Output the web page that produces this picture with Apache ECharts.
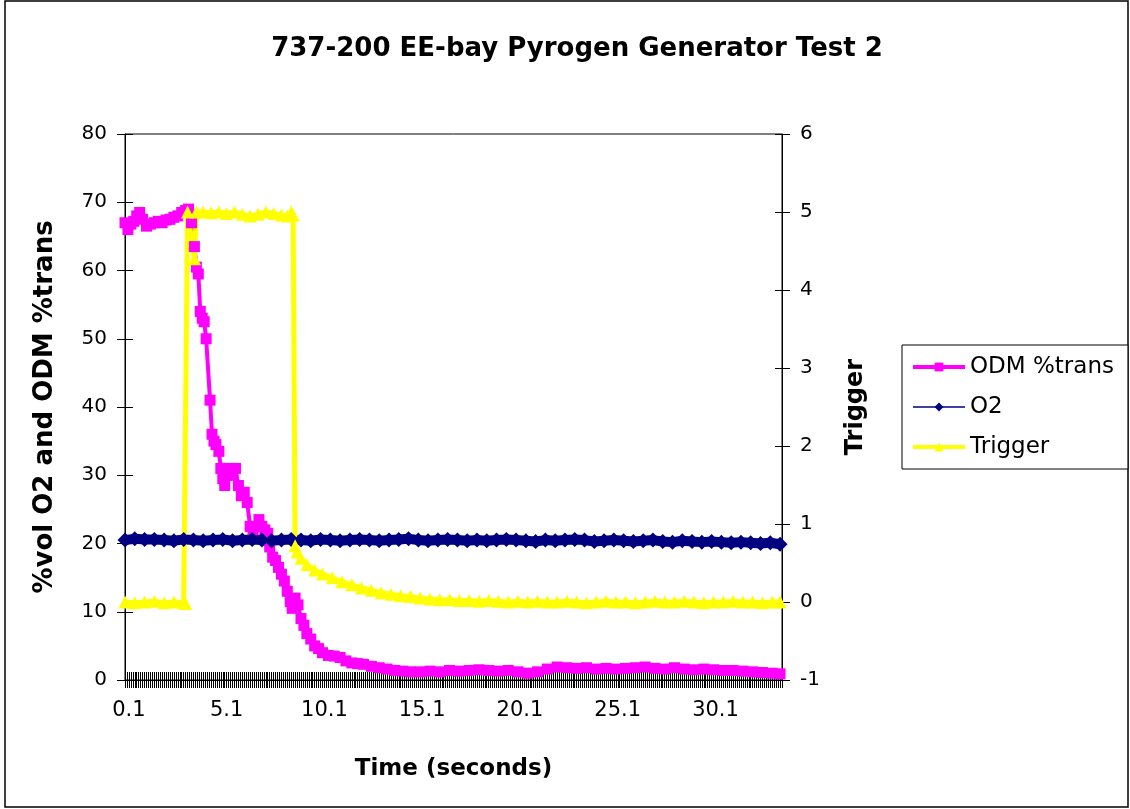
<!DOCTYPE html>
<html>
<head>
<meta charset="utf-8">
<script src="https://cdn.jsdelivr.net/npm/echarts@6.0.0/dist/echarts.min.js"></script>
<style>
  html, body { margin: 0; padding: 0; background: #fff; }
  #chart { width: 1130px; height: 809px; }
</style>
</head>
<body>
<div id="chart"></div>
<script>
// x labels shown under the axis (seconds)
const timeLabels = [0.1, 5.1, 10.1, 15.1, 20.1, 25.1, 30.1]

// ODM %trans (left axis)
const odmTime = [-0.1, 0.05, 0.2, 0.35, 0.5, 0.65, 0.8, 1.0, 1.2, 1.4, 1.6, 1.8, 2.0, 2.2, 2.4, 2.6, 2.8, 3.0, 3.15, 3.3,
  3.45, 3.55, 3.65, 3.75, 3.85, 3.95, 4.05, 4.25, 4.35, 4.45, 4.55, 4.7, 4.8, 4.9, 5.0, 5.1, 5.25, 5.4, 5.55, 5.7,
  5.85, 6.0, 6.15, 6.3, 6.45, 6.6, 6.75, 6.9, 7.05, 7.2, 7.3, 7.45, 7.6, 7.75, 7.9, 8.05, 8.2, 8.35, 8.45, 8.6,
  8.75, 8.9, 9.05, 9.2, 9.4, 9.6, 9.8, 10.0, 10.3, 10.6, 10.9, 11.2, 11.5, 11.8, 12.1, 12.5, 12.9, 13.3, 13.7, 14.1,
  14.5, 15.0, 15.5, 16.0, 16.5, 17.0, 17.5, 18.0, 18.5, 19.0, 19.5, 20.0, 20.5, 21.0, 21.5, 22.0, 22.5, 23.0, 23.5, 24.0,
  24.5, 25.0, 25.5, 26.0, 26.5, 27.0, 27.5, 28.0, 28.5, 29.0, 29.5, 30.0, 30.5, 31.0, 31.5, 32.0, 32.5, 33.0, 33.4]
const odmValue = [67.0, 66.0, 66.8, 67.2, 68.0, 68.5, 67.5, 66.5, 66.8, 67.0, 67.2, 67.0, 67.4, 67.5, 67.8, 68.0, 68.5, 68.8, 69.0, 67.0,
  63.5, 60.5, 59.5, 54.0, 53.0, 52.5, 50.0, 41.0, 36.0, 35.0, 34.5, 33.5, 31.0, 29.5, 28.5, 30.0, 31.0, 30.0, 31.0, 28.5,
  27.0, 27.5, 26.0, 22.5, 22.0, 22.5, 23.5, 22.5, 22.0, 21.5, 19.5, 18.0, 17.5, 16.5, 15.5, 14.5, 13.0, 11.5, 10.5, 12.0,
  11.0, 9.0, 8.0, 6.8, 6.0, 5.0, 4.6, 4.0, 3.6, 3.5, 3.3, 2.8, 2.5, 2.4, 2.3, 2.0, 1.8, 1.6, 1.4, 1.3,
  1.2, 1.2, 1.3, 1.2, 1.4, 1.3, 1.4, 1.5, 1.4, 1.3, 1.4, 1.2, 1.0, 1.2, 1.6, 1.9, 1.8, 1.7, 1.8, 1.6,
  1.7, 1.6, 1.7, 1.8, 1.9, 1.7, 1.6, 1.8, 1.6, 1.5, 1.6, 1.5, 1.4, 1.4, 1.3, 1.2, 1.1, 1.0, 0.9]

// O2 %vol (left axis)
const o2Time = [-0.1, 0.4, 0.9, 1.4, 1.9, 2.4, 2.9, 3.4, 3.9, 4.4, 4.9, 5.4, 5.9, 6.4, 6.9, 7.4, 7.9, 8.4, 8.9, 9.4,
  9.9, 10.4, 10.9, 11.4, 11.9, 12.4, 12.9, 13.4, 13.9, 14.4, 14.9, 15.4, 15.9, 16.4, 16.9, 17.4, 17.9, 18.4, 18.9, 19.4,
  19.9, 20.4, 20.9, 21.4, 21.9, 22.4, 22.9, 23.4, 23.9, 24.4, 24.9, 25.4, 25.9, 26.4, 26.9, 27.4, 27.9, 28.4, 28.9, 29.4,
  29.9, 30.4, 30.9, 31.4, 31.9, 32.4, 32.9, 33.4]
const o2Value = [20.5, 20.7, 20.6, 20.6, 20.5, 20.4, 20.6, 20.5, 20.4, 20.5, 20.6, 20.4, 20.5, 20.6, 20.5, 20.4, 20.5, 20.6, 20.5, 20.4,
  20.6, 20.5, 20.4, 20.5, 20.6, 20.5, 20.4, 20.5, 20.6, 20.7, 20.5, 20.4, 20.5, 20.6, 20.5, 20.4, 20.5, 20.4, 20.5, 20.6,
  20.5, 20.4, 20.3, 20.5, 20.4, 20.5, 20.6, 20.5, 20.3, 20.4, 20.5, 20.4, 20.3, 20.4, 20.5, 20.3, 20.2, 20.4, 20.3, 20.2,
  20.3, 20.2, 20.1, 20.2, 20.1, 20.0, 20.1, 19.9]

// Trigger (right axis)
const trigTime = [-0.1, 0.4, 0.9, 1.4, 1.9, 2.4, 2.9, 3.0, 3.1, 3.45, 3.55, 3.9, 4.3, 4.7, 5.1, 5.5, 5.9, 6.3, 6.7, 7.1,
  7.5, 7.9, 8.2, 8.4, 8.5, 8.6, 8.7, 8.9, 9.2, 9.6, 10.0, 10.5, 11.0, 11.5, 12.0, 12.5, 13.0, 13.5, 14.0, 14.5,
  15.0, 15.5, 16.0, 16.5, 17.0, 17.5, 18.0, 18.5, 19.0, 19.5, 20.0, 20.5, 21.0, 21.5, 22.0, 22.5, 23.0, 23.5, 24.0, 24.5,
  25.0, 25.5, 26.0, 26.5, 27.0, 27.5, 28.0, 28.5, 29.0, 29.5, 30.0, 30.5, 31.0, 31.5, 32.0, 32.5, 33.0, 33.4]
const trigValue = [0.0, -0.01, 0.0, 0.01, -0.01, 0.0, -0.01, -0.02, 5.0, 4.4, 5.0, 5.0, 4.99, 5.0, 4.98, 5.0, 4.97, 4.95, 4.97, 5.0,
  4.98, 4.96, 4.95, 5.0, 4.96, 0.72, 0.64, 0.56, 0.48, 0.41, 0.36, 0.31, 0.26, 0.22, 0.18, 0.15, 0.12, 0.1, 0.08, 0.07,
  0.05, 0.04, 0.03, 0.03, 0.02, 0.02, 0.01, 0.02, 0.01, 0.0, 0.01, 0.0, 0.01, 0.0, 0.0, 0.01, 0.0, -0.01, 0.0, 0.01,
  0.0, 0.0, -0.01, 0.0, 0.01, 0.0, 0.0, 0.01, 0.0, -0.01, 0.0, 0.0, 0.01, 0.0, 0.0, -0.01, 0.0, 0.0]

// one tick per 0.1 s sample, like the excel category axis
const sampleTicks = []
for (let i = 0; i <= 336; i++) {
  sampleTicks.push(Math.round((-0.1 + i * 0.1) * 100) / 100)
}

const FONT = 'DejaVu Sans'
const X_MIN = -0.1
const X_MAX = 33.5

const pairs = (t, v) => t.map((x, i) => [x, v[i]])

const chart = echarts.init(document.getElementById('chart'), null, { renderer: 'canvas' })

const option = {
  animation: false,
  backgroundColor: '#fff',
  textStyle: { fontFamily: FONT, color: '#000' },
  title: {
    text: '737-200 EE-bay Pyrogen Generator Test 2',
    left: 572,
    top: 31,
    textAlign: 'center',
    textStyle: { fontFamily: FONT, fontSize: 26, fontWeight: 'bold', color: '#000' }
  },
  graphic: [
    {
      type: 'rect',
      shape: { x: 5, y: 1, width: 1123, height: 806 },
      style: { fill: null, stroke: '#000', lineWidth: 1.5 },
      silent: true
    }
  ],
  legend: {
    orient: 'vertical',
    left: 902,
    top: 345,
    padding: [10, 14, 10, 9],
    itemWidth: 52,
    itemHeight: 11,
    itemGap: 16,
    borderColor: '#000',
    borderWidth: 1,
    backgroundColor: '#fff',
    textStyle: { fontFamily: FONT, fontSize: 23, lineHeight: 24, color: '#000' },
    data: [
      { name: 'ODM %trans', lineStyle: { width: 4 } },
      { name: 'O2', lineStyle: { width: 1.5 } },
      { name: 'Trigger', lineStyle: { width: 4 } }
    ]
  },
  grid: {
    left: 125,
    right: 348,
    top: 134,
    bottom: 129,
    show: true,
    borderColor: '#000',
    borderWidth: 1,
    backgroundColor: '#fff'
  },
  xAxis: [
    {
      type: 'value',
      position: 'bottom',
      min: X_MIN,
      max: X_MAX,
      name: 'Time (seconds)',
      nameLocation: 'middle',
      nameGap: 78,
      nameTextStyle: { fontFamily: FONT, fontSize: 23, fontWeight: 'bold', color: '#000' },
      axisLine: { onZero: false, lineStyle: { color: '#000', width: 1 } },
      axisTick: { show: true, inside: false, length: 8, customValues: sampleTicks, lineStyle: { color: '#000' } },
      axisLabel: {
        customValues: timeLabels,
        margin: 20,
        fontFamily: FONT,
        fontSize: 21,
        color: '#000',
        formatter: v => v.toFixed(1)
      },
      splitLine: { show: false }
    },
    {
      // second copy only to draw the upper half of the crossing ticks
      type: 'value',
      position: 'bottom',
      min: X_MIN,
      max: X_MAX,
      axisLine: { show: false, onZero: false },
      axisTick: { show: true, inside: true, length: 8, customValues: sampleTicks, lineStyle: { color: '#000' } },
      axisLabel: { show: false },
      splitLine: { show: false }
    }
  ],
  yAxis: [
    {
      type: 'value',
      position: 'left',
      min: 0,
      max: 80,
      interval: 10,
      name: '%vol O2 and ODM %trans',
      nameLocation: 'middle',
      nameRotate: 90,
      nameGap: 67,
      nameTextStyle: {
        fontFamily: FONT, fontSize: 26, fontWeight: 'bold', color: '#000',
        width: 352, overflow: 'truncate', ellipsis: ''
      },
      axisLine: { show: true, onZero: false, lineStyle: { color: '#000', width: 1 } },
      axisTick: { show: true, inside: false, length: 8, lineStyle: { color: '#000' } },
      axisLabel: { fontFamily: FONT, fontSize: 20, color: '#000', margin: 18 },
      splitLine: { show: false }
    },
    {
      type: 'value',
      position: 'right',
      min: -1,
      max: 6,
      interval: 1,
      name: 'Trigger',
      nameLocation: 'middle',
      nameRotate: 90,
      nameGap: 62,
      nameTextStyle: {
        fontFamily: FONT, fontSize: 24, fontWeight: 'bold', color: '#000',
        width: 93, overflow: 'truncate', ellipsis: ''
      },
      axisLine: { show: true, onZero: false, lineStyle: { color: '#000', width: 1 } },
      axisTick: { show: true, inside: false, length: 8, lineStyle: { color: '#000' } },
      axisLabel: { fontFamily: FONT, fontSize: 20, color: '#000', margin: 18 },
      splitLine: { show: false }
    },
    {
      type: 'value',
      position: 'left',
      min: 0,
      max: 80,
      interval: 10,
      axisLine: { show: false, onZero: false },
      axisTick: { show: true, inside: true, length: 8, lineStyle: { color: '#000' } },
      axisLabel: { show: false },
      splitLine: { show: false }
    },
    {
      type: 'value',
      position: 'right',
      min: -1,
      max: 6,
      interval: 1,
      axisLine: { show: false, onZero: false },
      axisTick: { show: true, inside: true, length: 7, lineStyle: { color: '#000' } },
      axisLabel: { show: false },
      splitLine: { show: false }
    }
  ],
  series: [
    {
      name: 'ODM %trans',
      type: 'line',
      xAxisIndex: 0,
      yAxisIndex: 0,
      data: pairs(odmTime, odmValue),
      symbol: 'rect',
      symbolSize: 11,
      showAllSymbol: true,
      color: '#FF00FF',
      itemStyle: { color: '#FF00FF' },
      lineStyle: { color: '#FF00FF', width: 4 }
    },
    {
      name: 'O2',
      type: 'line',
      xAxisIndex: 0,
      yAxisIndex: 0,
      data: pairs(o2Time, o2Value),
      symbol: 'diamond',
      symbolSize: 15,
      showAllSymbol: true,
      color: '#000080',
      itemStyle: { color: '#000080' },
      lineStyle: { color: '#000080', width: 10 }
    },
    {
      name: 'Trigger',
      type: 'line',
      xAxisIndex: 0,
      yAxisIndex: 1,
      data: pairs(trigTime, trigValue),
      symbol: 'triangle',
      symbolSize: 13,
      showAllSymbol: true,
      color: '#FFFF00',
      itemStyle: { color: '#FFFF00' },
      lineStyle: { color: '#FFFF00', width: 5 }
    }
  ]
}

chart.setOption(option)
</script>
</body>
</html>
